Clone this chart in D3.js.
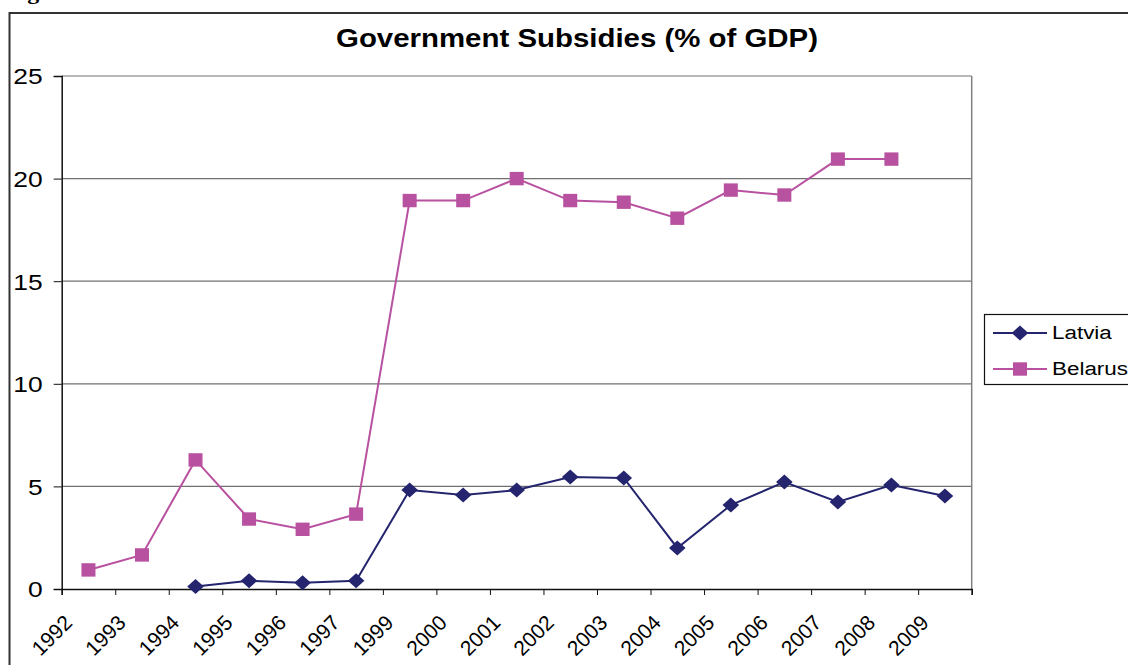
<!DOCTYPE html>
<html>
<head>
  <meta charset="utf-8">
  <title>Government Subsidies</title>
  <script src="https://d3js.org/d3.v7.min.js"></script>
  <style>
    body { margin: 0; background: #fff; }
    text { font-family: "Liberation Sans", Arial, sans-serif; fill: #000; }
  </style>
</head>
<body>
<div id="chart"></div>
<script>
// values (1998 is missing in the source)
var categories = ["1992", "1993", "1994", "1995", "1996", "1997", "1999", "2000", "2001",
                  "2002", "2003", "2004", "2005", "2006", "2007", "2008", "2009"];
var latvia  = [null, null, 0.12, 0.4, 0.3, 0.4, 4.82, 4.58, 4.82, 5.46, 5.41, 2.0, 4.09, 5.21, 4.24, 5.07, 4.53];
var belarus = [0.93, 1.66, 6.29, 3.41, 2.91, 3.65, 18.93, 18.93, 20.0, 18.93, 18.85, 18.07, 19.44, 19.2, 20.95, 20.95, null];
var yTicks  = [0, 5, 10, 15, 20, 25];

var W = 1128, H = 665;
var plot = {left: 61.7, right: 971.7, top: 76, bottom: 589};
var navy = "#25256f", pink = "#b8519f";

var svg = d3.select("#chart").append("svg")
    .attr("width", W)
    .attr("height", H);

// outer chart frame (runs off the page on the right and bottom)
svg.append("rect")
    .attr("x", 9.5).attr("y", 13)
    .attr("width", 1300).attr("height", 800)
    .attr("fill", "none")
    .attr("stroke", "#333")
    .attr("stroke-width", 2);

// bit of the caption above the chart, mostly cut off like in the source
svg.append("text")
    .attr("transform", "translate(6,-1) scale(1.2,1)")
    .style("font-family", "'Liberation Serif', serif")
    .style("font-weight", "bold")
    .style("font-size", "20px")
    .text("Figure");

var x = d3.scaleBand()
    .domain(categories)
    .range([plot.left, plot.right]);

var xEdge = d3.scaleLinear()          // tick marks sit between the categories
    .domain([0, categories.length])
    .range([plot.left, plot.right]);

var y = d3.scaleLinear()
    .domain([0, 25])
    .range([plot.bottom, plot.top]);

// gridlines + plot border
svg.append("g").selectAll("line")
    .data(yTicks.filter(function(d){ return d > 0; }))
    .enter().append("line")
    .attr("x1", plot.left).attr("x2", plot.right)
    .attr("y1", function(d){ return y(d); })
    .attr("y2", function(d){ return y(d); })
    .attr("stroke", "#707070")
    .attr("stroke-width", 1.2);

svg.append("line")
    .attr("x1", plot.right).attr("x2", plot.right)
    .attr("y1", plot.top).attr("y2", plot.bottom)
    .attr("stroke", "#808080")
    .attr("stroke-width", 1.5);

// y axis
var yAxis = svg.append("g")
    .attr("transform", "translate(" + plot.left + ",0)")
    .call(d3.axisLeft(y).tickValues(yTicks).tickSize(8).tickPadding(0));
yAxis.select(".domain").attr("stroke", "#111").attr("stroke-width", 1.5);
yAxis.selectAll(".tick line").attr("stroke", "#111");
yAxis.selectAll("text")
    .attr("x", 0).attr("dy", "0.36em")
    .attr("transform", "translate(-19,0) scale(1.2,1)")
    .attr("text-anchor", "end")
    .style("font-size", "22px");

// x axis: ticks on band edges, labels on band centres
var xTickAxis = svg.append("g")
    .attr("transform", "translate(0," + plot.bottom + ")")
    .call(d3.axisBottom(xEdge).tickValues(d3.range(categories.length + 1)).tickSize(6).tickFormat(""));
xTickAxis.select(".domain").attr("stroke", "#111").attr("stroke-width", 1.5);
xTickAxis.selectAll(".tick line").attr("stroke", "#111");

var xLabels = svg.append("g")
    .attr("transform", "translate(0," + plot.bottom + ")")
    .call(d3.axisBottom(x).tickSize(0));
xLabels.select(".domain").remove();
xLabels.selectAll("text")
    .attr("y", 0).attr("dy", 0)
    .attr("transform", "translate(-15,35) rotate(-45)")
    .attr("text-anchor", "end")
    .style("font-size", "21px");

// series
var series = [
  {name: "Latvia",  values: latvia,  color: navy, shape: "diamond"},
  {name: "Belarus", values: belarus, color: pink, shape: "square"}
];

function marker(shape) {
  if (shape == "diamond") return "M0,-7.5L8.3,0L0,7.5L-8.3,0Z";
  return "M-7,-6.7H7V6.7H-7Z";
}

var line = d3.line()
    .defined(function(d){ return d.v != null; })
    .x(function(d){ return x(d.c) + x.bandwidth() / 2; })
    .y(function(d){ return y(d.v); });

series.forEach(function(s) {
  var pts = categories.map(function(c, i){ return {c: c, v: s.values[i]}; });
  svg.append("path")
      .datum(pts)
      .attr("d", line)
      .attr("fill", "none")
      .attr("stroke", s.color)
      .attr("stroke-width", 2);
  svg.append("g").selectAll("path")
      .data(pts.filter(function(d){ return d.v != null; }))
      .enter().append("path")
      .attr("transform", function(d){ return "translate(" + (x(d.c) + x.bandwidth() / 2) + "," + y(d.v) + ")"; })
      .attr("d", marker(s.shape))
      .attr("fill", s.color);
});

// title
svg.append("text")
    .attr("transform", "translate(577,47) scale(1.11,1)")
    .attr("text-anchor", "middle")
    .style("font-weight", "bold")
    .style("font-size", "26.5px")
    .text("Government Subsidies (% of GDP)");

// legend
var legend = svg.append("g");
legend.append("rect")
    .attr("x", 984.5).attr("y", 314.5)
    .attr("width", 200).attr("height", 70)
    .attr("fill", "#fff")
    .attr("stroke", "#111")
    .attr("stroke-width", 1.2);

var items = legend.selectAll(".item")
    .data(series)
    .enter().append("g")
    .attr("class", "item")
    .attr("transform", function(d, i){ return "translate(0," + (333 + i * 36) + ")"; });
items.append("line")
    .attr("x1", 993).attr("x2", 1047)
    .attr("stroke", function(d){ return d.color; })
    .attr("stroke-width", 2);
items.append("path")
    .attr("transform", "translate(1020,0)")
    .attr("d", function(d){ return marker(d.shape); })
    .attr("fill", function(d){ return d.color; });
items.append("text")
    .attr("transform", "translate(1052,5.5) scale(1.18,1)")
    .style("font-size", "19px")
    .text(function(d){ return d.name; });
</script>
</body>
</html>
